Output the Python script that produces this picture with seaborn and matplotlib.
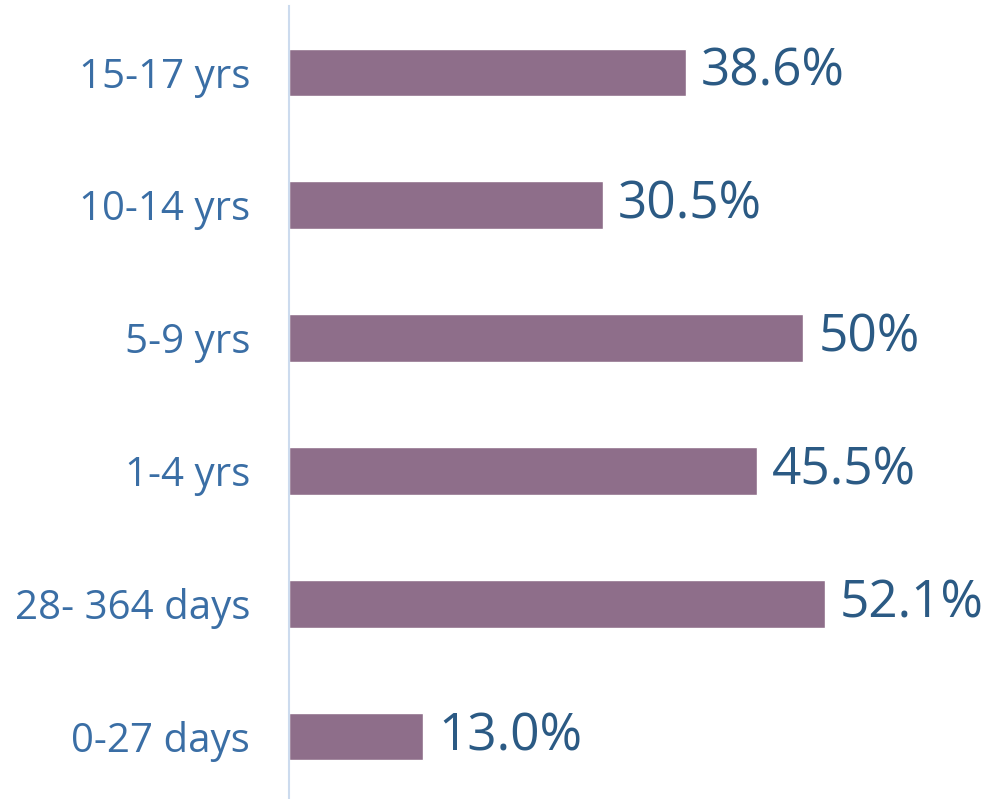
import pandas as pd
import matplotlib
matplotlib.use("Agg")
from matplotlib import pyplot as plt
import seaborn as sns

# age groups, top to bottom
age_groups = ["15-17 yrs", "10-14 yrs", "5-9 yrs", "1-4 yrs", "28- 364 days", "0-27 days"]
percent = [38.6, 30.5, 50.0, 45.5, 52.1, 13.0]
value_labels = ["38.6%", "30.5%", "50%", "45.5%", "52.1%", "13.0%"]

df = pd.DataFrame({"age": age_groups, "pct": percent})

sns.set_style("white")
plt.rcParams["font.family"] = ["Open Sans", "DejaVu Sans"]

fig = plt.figure(figsize=(9.88, 7.99), dpi=100)
ax = fig.add_axes([289 / 988, -4 / 799, 1 - 289 / 988, 797 / 799])

sns.barplot(df, x="pct", y="age", orient="h", color="#8E6E8A",
            saturation=1, width=0.36, ax=ax)

ax.bar_label(ax.containers[0], labels=value_labels, padding=11,
             fontsize=37, color="#2B5A84")

ax.set_xlim(0, 68)
ax.set_ylim(5.5, -0.5)
ax.set_xlabel("")
ax.set_ylabel("")
ax.set_xticks([])
ax.tick_params(axis="y", length=0, pad=28, labelsize=29, labelcolor="#3A6EA5")

for s in ["top", "right", "bottom"]:
    ax.spines[s].set_visible(False)
ax.spines["left"].set_color("#CCDBEE")
ax.spines["left"].set_linewidth(1.5)

fig.savefig("out.png", dpi=100)
